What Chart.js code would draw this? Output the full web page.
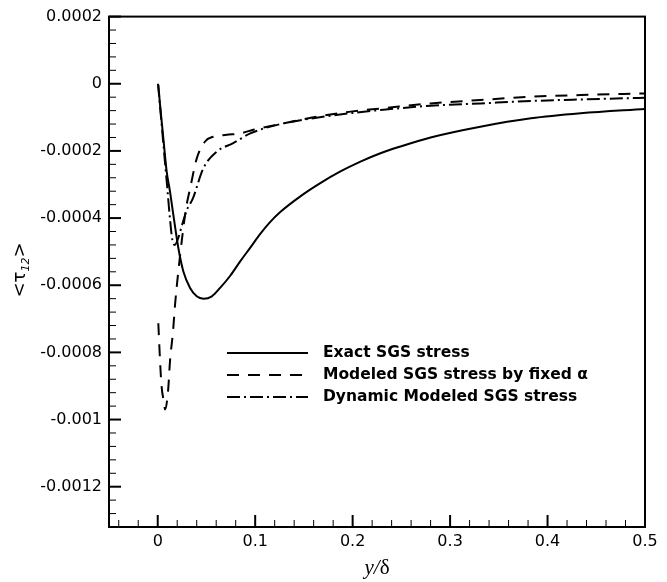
<!DOCTYPE html>
<html>
<head>
<meta charset="utf-8">
<script src="https://cdn.jsdelivr.net/npm/chart.js"></script>
<style>
  html, body { margin: 0; padding: 0; background: #fff; }
</style>
</head>
<body>
<canvas id="chart" width="667" height="582"></canvas>
<script>
// Axis ticks
const xTicks = [0, 0.1, 0.2, 0.3, 0.4, 0.5];
const yTicks = [0.0002, 0, -0.0002, -0.0004, -0.0006, -0.0008, -0.001, -0.0012];

// Exact SGS stress (solid)
const exactX = [0.0006, 0.0024, 0.0058, 0.0092, 0.0126, 0.016, 0.0212, 0.0263, 0.0332, 0.040, 0.047, 0.0555,
                0.064, 0.0746, 0.0846, 0.095, 0.105, 0.115, 0.1257, 0.146, 0.1668, 0.187, 0.208, 0.2285, 0.249, 0.28, 0.331, 0.383, 0.434, 0.5];
const exactY = [-0.000004, -0.000063, -0.000163, -0.000262, -0.000321, -0.00039, -0.00049, -0.000559, -0.000608, -0.000633, -0.00064, -0.000633,
                -0.000608, -0.000571, -0.000529, -0.000488, -0.000448, -0.000413, -0.000382, -0.000336, -0.000296, -0.000262, -0.000232, -0.000207, -0.000187, -0.00016, -0.000128, -0.000103, -0.000088, -0.000075];

// Modeled SGS stress by fixed alpha (dashed)
const fixedX = [0.0006, 0.0024, 0.0039, 0.0065, 0.0075, 0.0106, 0.0126, 0.0157, 0.0178, 0.0209, 0.025, 0.029, 0.0332, 0.040,
                0.0486, 0.0568, 0.0709, 0.0846, 0.098, 0.129, 0.163, 0.198, 0.2315, 0.28, 0.331, 0.383, 0.434, 0.5];
const fixedY = [-0.000713, -0.000826, -0.0009, -0.00095, -0.00097, -0.000915, -0.000826, -0.000737, -0.000657, -0.000565, -0.00046, -0.000372, -0.000312, -0.000223,
                -0.000172, -0.000158, -0.000152, -0.000148, -0.000137, -0.000118, -0.000098, -0.000083, -0.000073, -0.0000585, -0.0000485, -0.0000386, -0.0000336, -0.0000288];

// Dynamic modeled SGS stress (dash-dot)
const dynX = [0.0003, 0.003, 0.0065, 0.0095, 0.0125, 0.015, 0.0175, 0.021, 0.025, 0.03, 0.036, 0.0466,
              0.0606, 0.0774, 0.095, 0.129, 0.163, 0.198, 0.2315, 0.28, 0.331, 0.383, 0.434, 0.5];
const dynY = [0.0, -0.000088, -0.000203, -0.0003, -0.0004, -0.000465, -0.00048, -0.00046, -0.00042, -0.000375, -0.000342, -0.000253,
              -0.000202, -0.000177, -0.000148, -0.000118, -0.000101, -0.0000877, -0.0000773, -0.0000654, -0.0000585, -0.0000514, -0.0000467, -0.0000416];

const legendLabels = ['Exact SGS stress', 'Modeled SGS stress by fixed \u03b1', 'Dynamic Modeled SGS stress'];
const dashes = [[], [12, 9], [13, 4, 2, 4]];

function toPoints(xs, ys) {
    return xs.map((x, i) => ({ x: x, y: ys[i] }));
}

function makeDataset(label, xs, ys, dash) {
    return {
        label: label,
        data: toPoints(xs, ys),
        showLine: true,
        borderColor: '#000',
        borderWidth: 2,
        borderDash: dash,
        pointRadius: 0,
        cubicInterpolationMode: 'monotone',
        fill: false
    };
}

// Frame, inward ticks, axis titles and legend
const framePlugin = {
    id: 'frame',
    afterDraw(chart) {
        const ctx = chart.ctx;
        const a = chart.chartArea;
        const xs = chart.scales.x, ys = chart.scales.y;
        ctx.save();
        ctx.strokeStyle = '#000';
        ctx.fillStyle = '#000';

        // x ticks, minor every 0.02
        for (let i = -2; i <= 24; i++) {
            const px = xs.getPixelForValue(i * 0.02);
            const major = i % 5 === 0;
            ctx.lineWidth = major ? 2 : 1;
            ctx.beginPath();
            ctx.moveTo(px, a.bottom);
            ctx.lineTo(px, a.bottom - (major ? 12 : 7));
            ctx.stroke();
        }
        // y ticks, minor every 0.00004
        for (let i = -32; i <= 5; i++) {
            const py = ys.getPixelForValue(i * 0.00004);
            const major = i % 5 === 0;
            ctx.lineWidth = major ? 2 : 1;
            ctx.beginPath();
            ctx.moveTo(a.left, py);
            ctx.lineTo(a.left + (major ? 12 : 7), py);
            ctx.stroke();
        }

        ctx.lineWidth = 2;
        ctx.strokeRect(a.left, a.top, a.right - a.left, a.bottom - a.top);

        // x title: y/δ
        ctx.textBaseline = 'alphabetic';
        ctx.font = 'italic 21px "Liberation Serif"';
        const w1 = ctx.measureText('y/').width;
        ctx.font = '21px "Liberation Serif"';
        const w2 = ctx.measureText('\u03b4').width;
        let tx = (a.left + a.right) / 2 - (w1 + w2) / 2;
        ctx.font = 'italic 21px "Liberation Serif"';
        ctx.fillText('y/', tx, 574);
        ctx.font = '21px "Liberation Serif"';
        ctx.fillText('\u03b4', tx + w1, 574);

        // y title: <τ12>
        ctx.save();
        ctx.translate(25, 270);
        ctx.rotate(-Math.PI / 2);
        const big = '18px "DejaVu Sans"', small = 'italic 11px "DejaVu Sans"';
        ctx.font = big;
        const wa = ctx.measureText('<\u03c4').width, wc = ctx.measureText('>').width;
        ctx.font = small;
        const wb = ctx.measureText('12').width;
        let sx = -(wa + wb + wc) / 2;
        ctx.font = big;
        ctx.fillText('<\u03c4', sx, 0);
        ctx.font = small;
        ctx.fillText('12', sx + wa, 4);
        ctx.font = big;
        ctx.fillText('>', sx + wa + wb, 0);
        ctx.restore();

        // legend
        const rows = [353, 375, 397];
        ctx.textBaseline = 'middle';
        ctx.font = 'bold 15.5px "DejaVu Sans"';
        rows.forEach((y, i) => {
            ctx.lineWidth = 2;
            ctx.setLineDash(dashes[i]);
            ctx.beginPath();
            ctx.moveTo(227, y);
            ctx.lineTo(308, y);
            ctx.stroke();
            ctx.setLineDash([]);
            ctx.fillText(legendLabels[i], 323, y);
        });
        ctx.restore();
    }
};

const tickFont = { family: 'DejaVu Sans', size: 16 };

new Chart(document.getElementById('chart'), {
    type: 'scatter',
    data: {
        datasets: [
            makeDataset(legendLabels[0], exactX, exactY, dashes[0]),
            makeDataset(legendLabels[1], fixedX, fixedY, dashes[1]),
            makeDataset(legendLabels[2], dynX, dynY, dashes[2])
        ]
    },
    options: {
        responsive: false,
        animation: false,
        layout: { padding: { left: 0, top: 15, right: 22, bottom: 0 } },
        plugins: {
            legend: { display: false },
            tooltip: { enabled: false }
        },
        scales: {
            x: {
                type: 'linear',
                min: -0.05,
                max: 0.5,
                grid: { display: false, drawTicks: false },
                border: { display: false },
                afterBuildTicks: s => { s.ticks = xTicks.map(v => ({ value: v })); },
                afterFit: s => { s.height = 55; },
                ticks: {
                    font: tickFont,
                    color: '#000',
                    padding: 5,
                    maxRotation: 0,
                    callback: v => String(parseFloat(v.toFixed(4)))
                }
            },
            y: {
                type: 'linear',
                min: -0.00132,
                max: 0.0002,
                grid: { display: false, drawTicks: false },
                border: { display: false },
                afterBuildTicks: s => { s.ticks = yTicks.map(v => ({ value: v })); },
                afterFit: s => { s.width = 109; },
                ticks: {
                    font: tickFont,
                    color: '#000',
                    padding: 7,
                    callback: v => String(parseFloat(v.toFixed(5)))
                }
            }
        }
    },
    plugins: [framePlugin]
});
</script>
</body>
</html>
